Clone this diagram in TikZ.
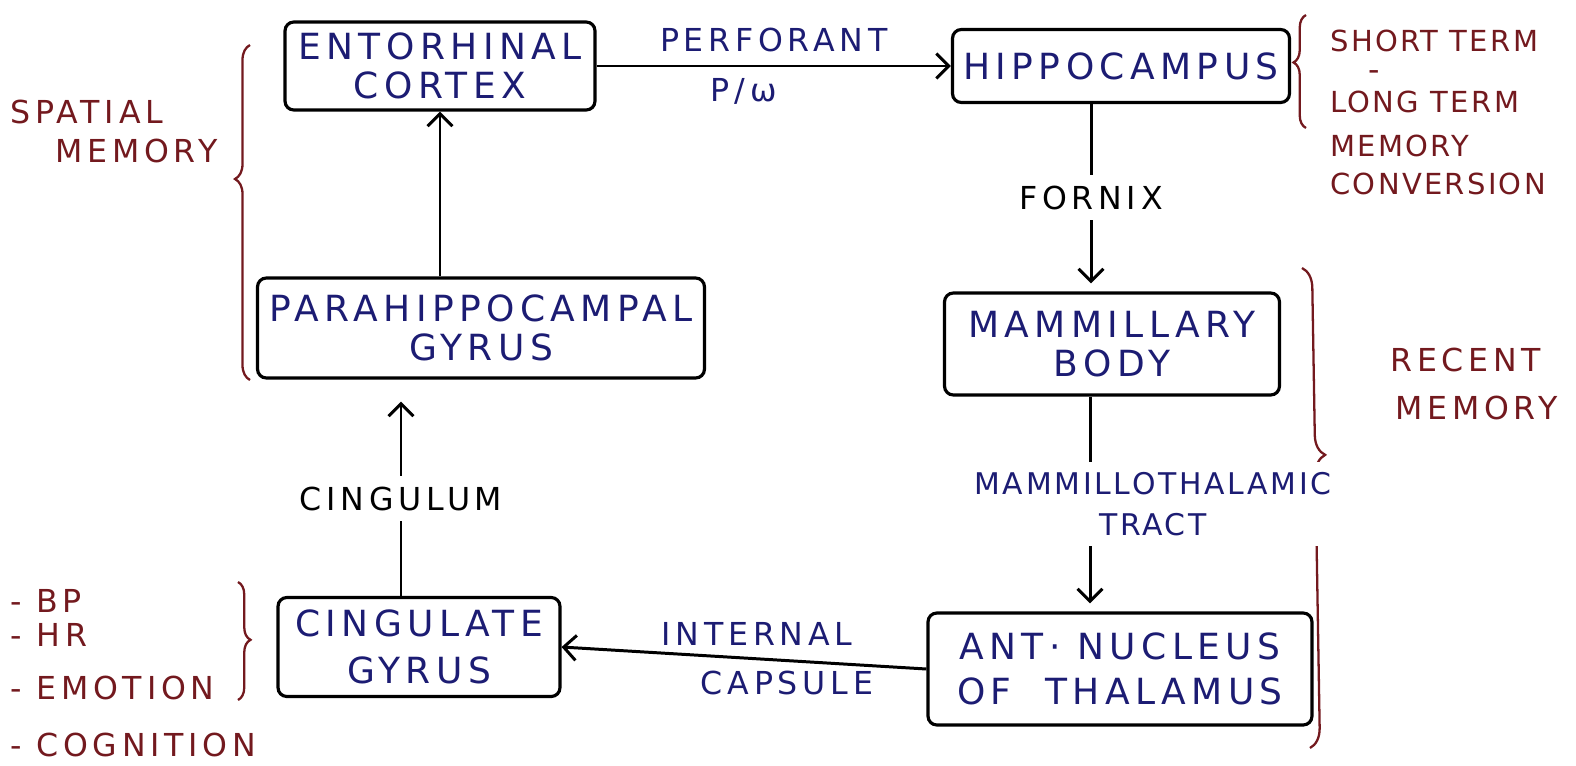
\documentclass[tikz,border=0pt]{standalone}
\usepackage{fontspec}
\setmainfont{DejaVu Sans}[LetterSpace=15]
\usepackage{xcolor}
\usetikzlibrary{arrows.meta,positioning,calc,decorations.pathreplacing}
\definecolor{ink}{RGB}{28,28,115}
\definecolor{note}{RGB}{115,25,30}

\begin{document}
\begin{tikzpicture}[x=0.02cm, y=-0.02cm, font=\fontsize{18}{23}\selectfont,
  b/.style={draw, line width=1.8pt, rounded corners=5pt, text=ink, align=center, inner sep=2pt,
    font=\fontsize{20.5}{22}\selectfont},
  t/.style={fill=white, align=center, inner xsep=3pt, inner ysep=6pt},
  r/.style={text=note, anchor=west, inner sep=0pt},
  br/.style={decorate, decoration={brace, amplitude=#1, aspect=\asp}, draw=note, line width=1.3pt},
  a/.style={-{Straight Barb[length=2.5mm, width=5mm]}, line width=1.7pt}]
  \useasboundingbox (0,0) rectangle (1576,765);
  % boxes of the circuit
  \node[b, minimum width=6.2cm, minimum height=1.76cm] (ent) at (440,66) {ENTORHINAL\\CORTEX};
  \node[b, minimum width=6.74cm, minimum height=1.46cm] (hip) at (1121,66) {HIPPOCAMPUS};
  \node[b, minimum width=8.94cm, minimum height=2cm] (para) at (481,328) {PARAHIPPOCAMPAL\\GYRUS};
  \node[b, minimum width=6.7cm, minimum height=2.04cm] (mam) at (1112,344) {MAMMILLARY\\BODY};
  \node[b, minimum width=5.64cm, minimum height=1.98cm, font=\fontsize{20.5}{27}\selectfont] (cing) at (419,647) {CINGULATE\\GYRUS};
  \node[b, minimum width=7.68cm, minimum height=2.24cm, font=\fontsize{20.5}{26}\selectfont] (ant) at (1120,669) {ANT· NUCLEUS\\OF\ \ THALAMUS};
  % notes in red
  \def\asp{0.6}\draw[br=0.3cm] (250,380) -- (250,45);
  \def\asp{0.58}\draw[br=0.25cm] (1306,128) -- (1306,15);
  \def\asp{0.39}\draw[br=0.4cm] (1302,268) -- (1310,748);
  \def\asp{0.49}\draw[br=0.25cm] (238,582) -- (238,700);
  \node[r] (sp1) at (10,112) {SPATIAL}; \node[r] (sp2) at (55,151) {MEMORY};
  \node[r] (rc1) at (1390,360) {RECENT}; \node[r] (rc2) at (1395,408) {MEMORY};
  \node[r] (dsh) at (1368,76) {-};
  \foreach \y/\s [count=\i] in {41/SHORT TERM,102/LONG TERM,146/MEMORY,184/CONVERSION}
    \node[r, font=\fontsize{16.5}{20}\selectfont\addfontfeature{LetterSpace=8}] (st\i) at (1330,\y) {\s};
  \foreach \y/\s [count=\i] in {601/- BP,635/- HR,688/- EMOTION,745/- COGNITION}
    \node[r] (fn\i) at (10,\y) {\s};
  % pathways
  \draw[a] (ent.east) -- node[above=4pt, text=ink] (perf) {PERFORANT} node[below=3pt, xshift=-0.6cm, text=ink] (pw) {P/ω} (hip.west);
  \draw[a] (ent.south |- para.north) -- (ent.south);
  \draw[a, shorten >=0.44cm] ($(cing.north)+(-18,0)$) -- node[t, pos=0.45] (cgl) {CINGULUM} ($(cing.north |- para.south)+(-18,0)$);
  \draw[a, shorten >=0.16cm] ($(hip.south)+(-30,0)$) -- node[t, pos=0.5] (frx) {FORNIX} ($(hip.south |- mam.north)+(-30,0)$);
  \draw[a, shorten >=0.16cm] ($(mam.south)+(-22,0)$) -- node[t, pos=0.5, xshift=1.26cm, text=ink, font=\fontsize{17}{23}\selectfont\addfontfeature{LetterSpace=9}] (mtt) {MAMMILLOTHALAMIC\\TRACT} ($(mam.south |- ant.north)+(-22,0)$);
  \draw[a] (ant.west) -- node[above=3pt, xshift=0.26cm, text=ink] (ic1) {INTERNAL} node[below=3pt, xshift=0.86cm, text=ink] (ic2) {CAPSULE} (cing.east);
\end{tikzpicture}
\end{document}
